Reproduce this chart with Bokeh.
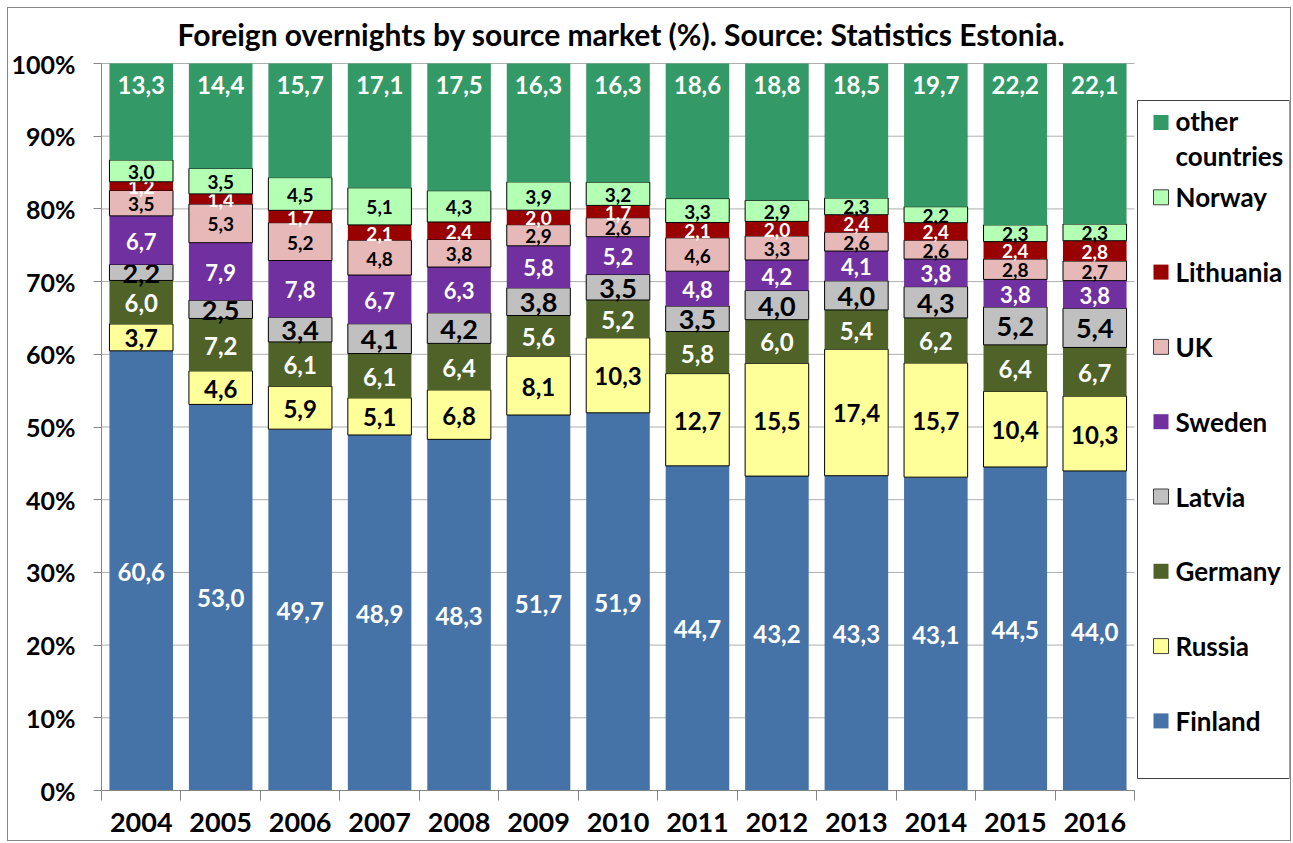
from bokeh.plotting import figure
from bokeh.models import Range1d, FixedTicker, ColumnDataSource
from bokeh.core.properties import value
from bokeh.embed import file_html
from bokeh.resources import INLINE

years = ["2004", "2005", "2006", "2007", "2008", "2009", "2010",
         "2011", "2012", "2013", "2014", "2015", "2016"]
series = ["Finland", "Russia", "Germany", "Latvia", "Sweden", "UK",
          "Lithuania", "Norway", "other countries"]

finland = [60.6, 53.0, 49.7, 48.9, 48.3, 51.7, 51.9, 44.7, 43.2, 43.3, 43.1, 44.5, 44.0]
russia = [3.7, 4.6, 5.9, 5.1, 6.8, 8.1, 10.3, 12.7, 15.5, 17.4, 15.7, 10.4, 10.3]
germany = [6.0, 7.2, 6.1, 6.1, 6.4, 5.6, 5.2, 5.8, 6.0, 5.4, 6.2, 6.4, 6.7]
latvia = [2.2, 2.5, 3.4, 4.1, 4.2, 3.8, 3.5, 3.5, 4.0, 4.0, 4.3, 5.2, 5.4]
sweden = [6.7, 7.9, 7.8, 6.7, 6.3, 5.8, 5.2, 4.8, 4.2, 4.1, 3.8, 3.8, 3.8]
uk = [3.5, 5.3, 5.2, 4.8, 3.8, 2.9, 2.6, 4.6, 3.3, 2.6, 2.6, 2.8, 2.7]
lithuania = [1.2, 1.4, 1.7, 2.1, 2.4, 2.0, 1.7, 2.1, 2.0, 2.4, 2.4, 2.4, 2.8]
norway = [3.0, 3.5, 4.5, 5.1, 4.3, 3.9, 3.2, 3.3, 2.9, 2.3, 2.2, 2.3, 2.3]
other = [13.3, 14.4, 15.7, 17.1, 17.5, 16.3, 16.3, 18.6, 18.8, 18.5, 19.7, 22.2, 22.1]

values = [finland, russia, germany, latvia, sweden, uk, lithuania, norway, other]
y_ticks = [0, 10, 20, 30, 40, 50, 60, 70, 80, 90, 100]
title_text = "Foreign overnights by source market (%). Source: Statistics Estonia."

fills = ["#4673A7", "#FFFF99", "#4F6228", "#C0C0C0", "#7030A0", "#E6B9B8",
         "#990000", "#B3FFB3", "#339966"]
outlined = [False, True, False, True, False, True, False, True, False]
label_colors = ["white", "black", "white", "black", "white", "black",
                "white", "black", "white"]
label_sizes = ["24px", "24px", "24px", "27px", "22px", "19px", "19px", "19px", "24px"]

FONT = value("Lato")

# layout (pixels, page coordinates)
PX_TOP = 8      # top of figure content
PX_X0 = 99      # frame left
PX_Y0 = 790     # 0% line
PX_Y100 = 63    # 100% line
FRAME_W = 1188
FRAME_H = PX_Y0 - PX_TOP
n = len(years)
CAT_W = 1033 / n
PX_PER_PCT = (PX_Y0 - PX_Y100) / 100
x_end = FRAME_W / CAT_W
y_end = FRAME_H / PX_PER_PCT


def dx(px):
    return (px - PX_X0) / CAT_W


def dy(py):
    return (PX_Y0 - py) / PX_PER_PCT


p = figure(frame_width=FRAME_W, frame_height=FRAME_H,
           min_border_left=91, min_border_right=1, min_border_top=0, min_border_bottom=50,
           x_range=Range1d(0, x_end), y_range=Range1d(0, y_end),
           output_backend="svg", toolbar_location=None)
p.margin = (7, 0, 0, 7)
p.styles = {"border": "1px solid #868686"}
p.outline_line_color = None
p.xgrid.visible = False
p.ygrid.visible = False
p.background_fill_color = "white"
p.border_fill_color = "white"

# title
p.text(x=[dx(619)], y=[dy(33)], text=[title_text], text_align="center",
       text_baseline="middle", text_font=FONT, text_font_style="bold",
       text_font_size="30px", text_color="black")

# gridlines restricted to the category area
p.segment(x0=[0] * len(y_ticks), x1=[n] * len(y_ticks), y0=y_ticks, y1=y_ticks,
          line_color="#AEAEAE", line_width=1)

centers = [i + 0.5 for i in range(n)]
totals = [sum(v[i] for v in values) for i in range(n)]
bottom = [0.0] * n
for k, name in enumerate(series):
    vals = values[k]
    pct = [vals[i] / totals[i] * 100 for i in range(n)]
    top = [bottom[i] + pct[i] for i in range(n)]
    src = ColumnDataSource(dict(x=centers, bottom=list(bottom), top=top,
                                mid=[(bottom[i] + top[i]) / 2 for i in range(n)],
                                lab=[f"{v:.1f}".replace(".", ",") for v in vals]))
    p.vbar(x="x", width=0.8, bottom="bottom", top="top", source=src,
           fill_color=fills[k],
           line_color="black" if outlined[k] else None, line_width=1)
    if name == "other countries":
        p.text(x="x", y="top", text="lab", source=src, y_offset=21,
               text_align="center", text_baseline="middle", text_font=FONT,
               text_font_style="bold", text_font_size=label_sizes[k],
               text_color=label_colors[k])
    else:
        p.text(x="x", y="mid", text="lab", source=src, y_offset=1,
               text_align="center", text_baseline="middle", text_font=FONT,
               text_font_style="bold", text_font_size=label_sizes[k],
               text_color=label_colors[k])
    bottom = top

# legend (manual)
p.quad(left=[dx(1135)], right=[dx(1287)], bottom=[dy(778)], top=[dy(100)],
       fill_color="white", line_color="#404040", line_width=1)
order = list(range(len(series)))[::-1]
leg_y = [dy(122 + 74.8 * j) for j in range(len(order))]
p.rect(x=[dx(1158.5)] * len(order), y=leg_y, width=15, height=15,
       width_units="screen", height_units="screen",
       fill_color=[fills[k] for k in order],
       line_color=["#404040" if outlined[k] else None for k in order])
leg_text = [series[k].replace(" ", "\n") for k in order]
single = [t for t in leg_text if "\n" not in t]
p.text(x=[dx(1173)] * len(single), y=leg_y[1:], text=single,
       text_align="left", text_baseline="middle", text_font=FONT,
       text_font_style="bold", text_font_size="26px", text_color="black")
multi = [t for t in leg_text if "\n" in t]
p.text(x=[dx(1173)], y=[leg_y[0]], text=multi, y_offset=-18, text_line_height=1.1,
       text_align="left", text_baseline="top", text_font=FONT,
       text_font_style="bold", text_font_size="26px", text_color="black")

# axes
xa = p.xaxis[0]
xa.ticker = FixedTicker(ticks=centers, minor_ticks=list(range(n + 1)))
xa.major_label_overrides = {c: y for c, y in zip(centers, years)}
xa.bounds = (0, n)
xa.axis_line_color = "#868686"
xa.major_tick_line_color = None
xa.major_tick_out = 0
xa.major_tick_in = 0
xa.minor_tick_line_color = "#868686"
xa.minor_tick_out = 10
xa.minor_tick_in = 0
xa.major_label_standoff = 12
xa.major_label_text_font = "Lato"
xa.major_label_text_font_style = "bold"
xa.major_label_text_font_size = "27px"
xa.major_label_text_color = "black"

ya = p.yaxis[0]
ya.ticker = FixedTicker(ticks=y_ticks, minor_ticks=[])
ya.major_label_overrides = {t: f"{t}%" for t in y_ticks}
ya.bounds = (0, 100)
ya.axis_line_color = "#868686"
ya.major_tick_line_color = "#868686"
ya.major_tick_out = 8
ya.major_tick_in = 0
ya.minor_tick_line_color = None
ya.major_label_standoff = 18
ya.major_label_text_font = "Lato"
ya.major_label_text_font_style = "bold"
ya.major_label_text_font_size = "25px"
ya.major_label_text_color = "black"

open("out.html", "w").write(file_html(p, INLINE))
